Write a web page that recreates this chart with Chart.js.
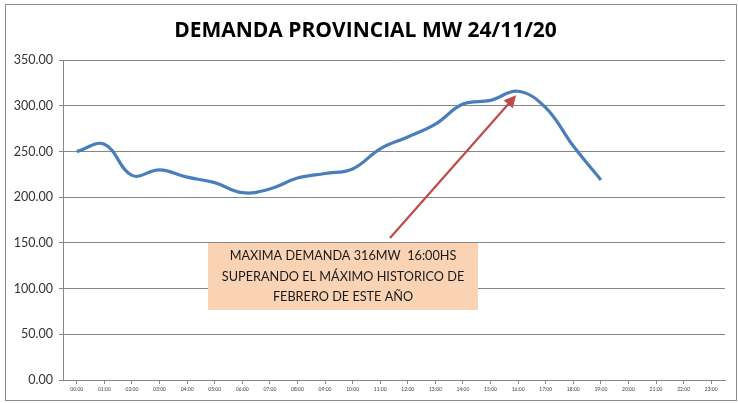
<!DOCTYPE html>
<html>
<head>
<meta charset="utf-8">
<script src="https://cdn.jsdelivr.net/npm/chart.js@4"></script>
<style>
  html, body { margin: 0; padding: 0; background: #fff; }
  #wrap { width: 738px; height: 403px; }
</style>
</head>
<body>
<div id="wrap"><canvas id="myChart" width="738" height="403"></canvas></div>
<script>
// hours of the day (x axis)
var hours = ['00:00', '01:00', '02:00', '03:00', '04:00', '05:00', '06:00', '07:00',
  '08:00', '09:00', '10:00', '11:00', '12:00', '13:00', '14:00', '15:00',
  '16:00', '17:00', '18:00', '19:00', '20:00', '21:00', '22:00', '23:00'];
// demand in MW, only up to 19:00
var demanda = [250, 258, 224, 230, 222, 216, 205, 209, 221, 226, 231, 253,
  266, 280, 302, 306, 316, 298, 256, 219];
var titulo = 'DEMANDA PROVINCIAL MW 24/11/20';
var nota = ['MAXIMA DEMANDA 316MW  16:00HS', 'SUPERANDO EL MÁXIMO HISTORICO DE', 'FEBRERO DE ESTE AÑO'];

// frame around the whole chart, like the excel chart object
var frame = {
  id: 'frame',
  beforeDraw: function (chart) {
    var c = chart.ctx;
    c.save();
    c.fillStyle = '#fff';
    c.fillRect(0, 0, chart.width, chart.height);
    c.strokeStyle = '#8c8c8c';
    c.lineWidth = 1;
    c.strokeRect(5.5, 4.5, 731, 396);
    c.restore();
  }
};

// callout box + arrow pointing at the max
var callout = {
  id: 'callout',
  afterDatasetsDraw: function (chart) {
    var c = chart.ctx;
    var xs = chart.scales.x, ys = chart.scales.y;
    var imax = demanda.indexOf(Math.max.apply(null, demanda));
    var tipX = xs.getPixelForValue(imax) - 2;
    var tipY = ys.getPixelForValue(demanda[imax]) + 4;
    var tailX = 390, tailY = 238;

    c.save();
    // arrow
    c.strokeStyle = '#BE4B48';
    c.fillStyle = '#BE4B48';
    c.lineWidth = 2.2;
    var ang = Math.atan2(tipY - tailY, tipX - tailX);
    c.beginPath();
    c.moveTo(tailX, tailY);
    c.lineTo(tipX - 8 * Math.cos(ang), tipY - 8 * Math.sin(ang));
    c.stroke();
    c.beginPath();
    c.moveTo(tipX, tipY);
    c.lineTo(tipX - 12 * Math.cos(ang) + 6 * Math.sin(ang), tipY - 12 * Math.sin(ang) - 6 * Math.cos(ang));
    c.lineTo(tipX - 12 * Math.cos(ang) - 6 * Math.sin(ang), tipY - 12 * Math.sin(ang) + 6 * Math.cos(ang));
    c.closePath();
    c.fill();

    // box
    c.fillStyle = '#FAD3B4';
    c.fillRect(208, 243, 270, 67);
    c.fillStyle = '#1a1a1a';
    c.font = '12.7px Lato';
    c.textAlign = 'center';
    c.textBaseline = 'middle';
    for (var i = 0; i < nota.length; i++) {
      c.fillText(nota[i], 343, 256 + i * 20.5);
    }
    c.restore();
  }
};

var ctx = document.getElementById('myChart').getContext('2d');

var myChart = new Chart(ctx, {
  type: 'line',
  data: {
    labels: hours,
    datasets: [{
      label: 'Demanda',
      data: demanda,
      borderColor: '#4A7EBB',
      borderWidth: 3.2,
      pointRadius: 0,
      tension: 0.4,
      fill: false
    }]
  },
  options: {
    responsive: false,
    animation: false,
    layout: { padding: { left: 6, right: 13, top: 0, bottom: 3 } },
    plugins: {
      legend: { display: false },
      tooltip: { enabled: false },
      title: {
        display: true,
        text: titulo,
        color: '#000',
        font: { family: 'Open Sans', size: 21, weight: 'bold', lineHeight: 1.2 },
        padding: { top: 18, bottom: 17 }
      }
    },
    scales: {
      x: {
        offset: true,
        grid: { drawOnChartArea: false, drawTicks: true, tickLength: 4, color: '#868686' },
        border: { color: '#868686' },
        ticks: {
          autoSkip: false, maxRotation: 0, minRotation: 0,
          color: '#404040', font: { family: 'Lato', size: 5 }, padding: 2
        },
        afterFit: function (s) { s.height = 20; }
      },
      y: {
        min: 0,
        max: 350,
        ticks: {
          stepSize: 50,
          color: '#333333',
          font: { family: 'Lato', size: 12.5 },
          padding: 6,
          callback: function (v) { return v.toFixed(2); }
        },
        grid: { color: '#868686', tickLength: 4 },
        border: { color: '#868686' },
        afterFit: function (s) { s.width = 57; }
      }
    }
  },
  plugins: [frame, callout]
});
</script>
</body>
</html>
